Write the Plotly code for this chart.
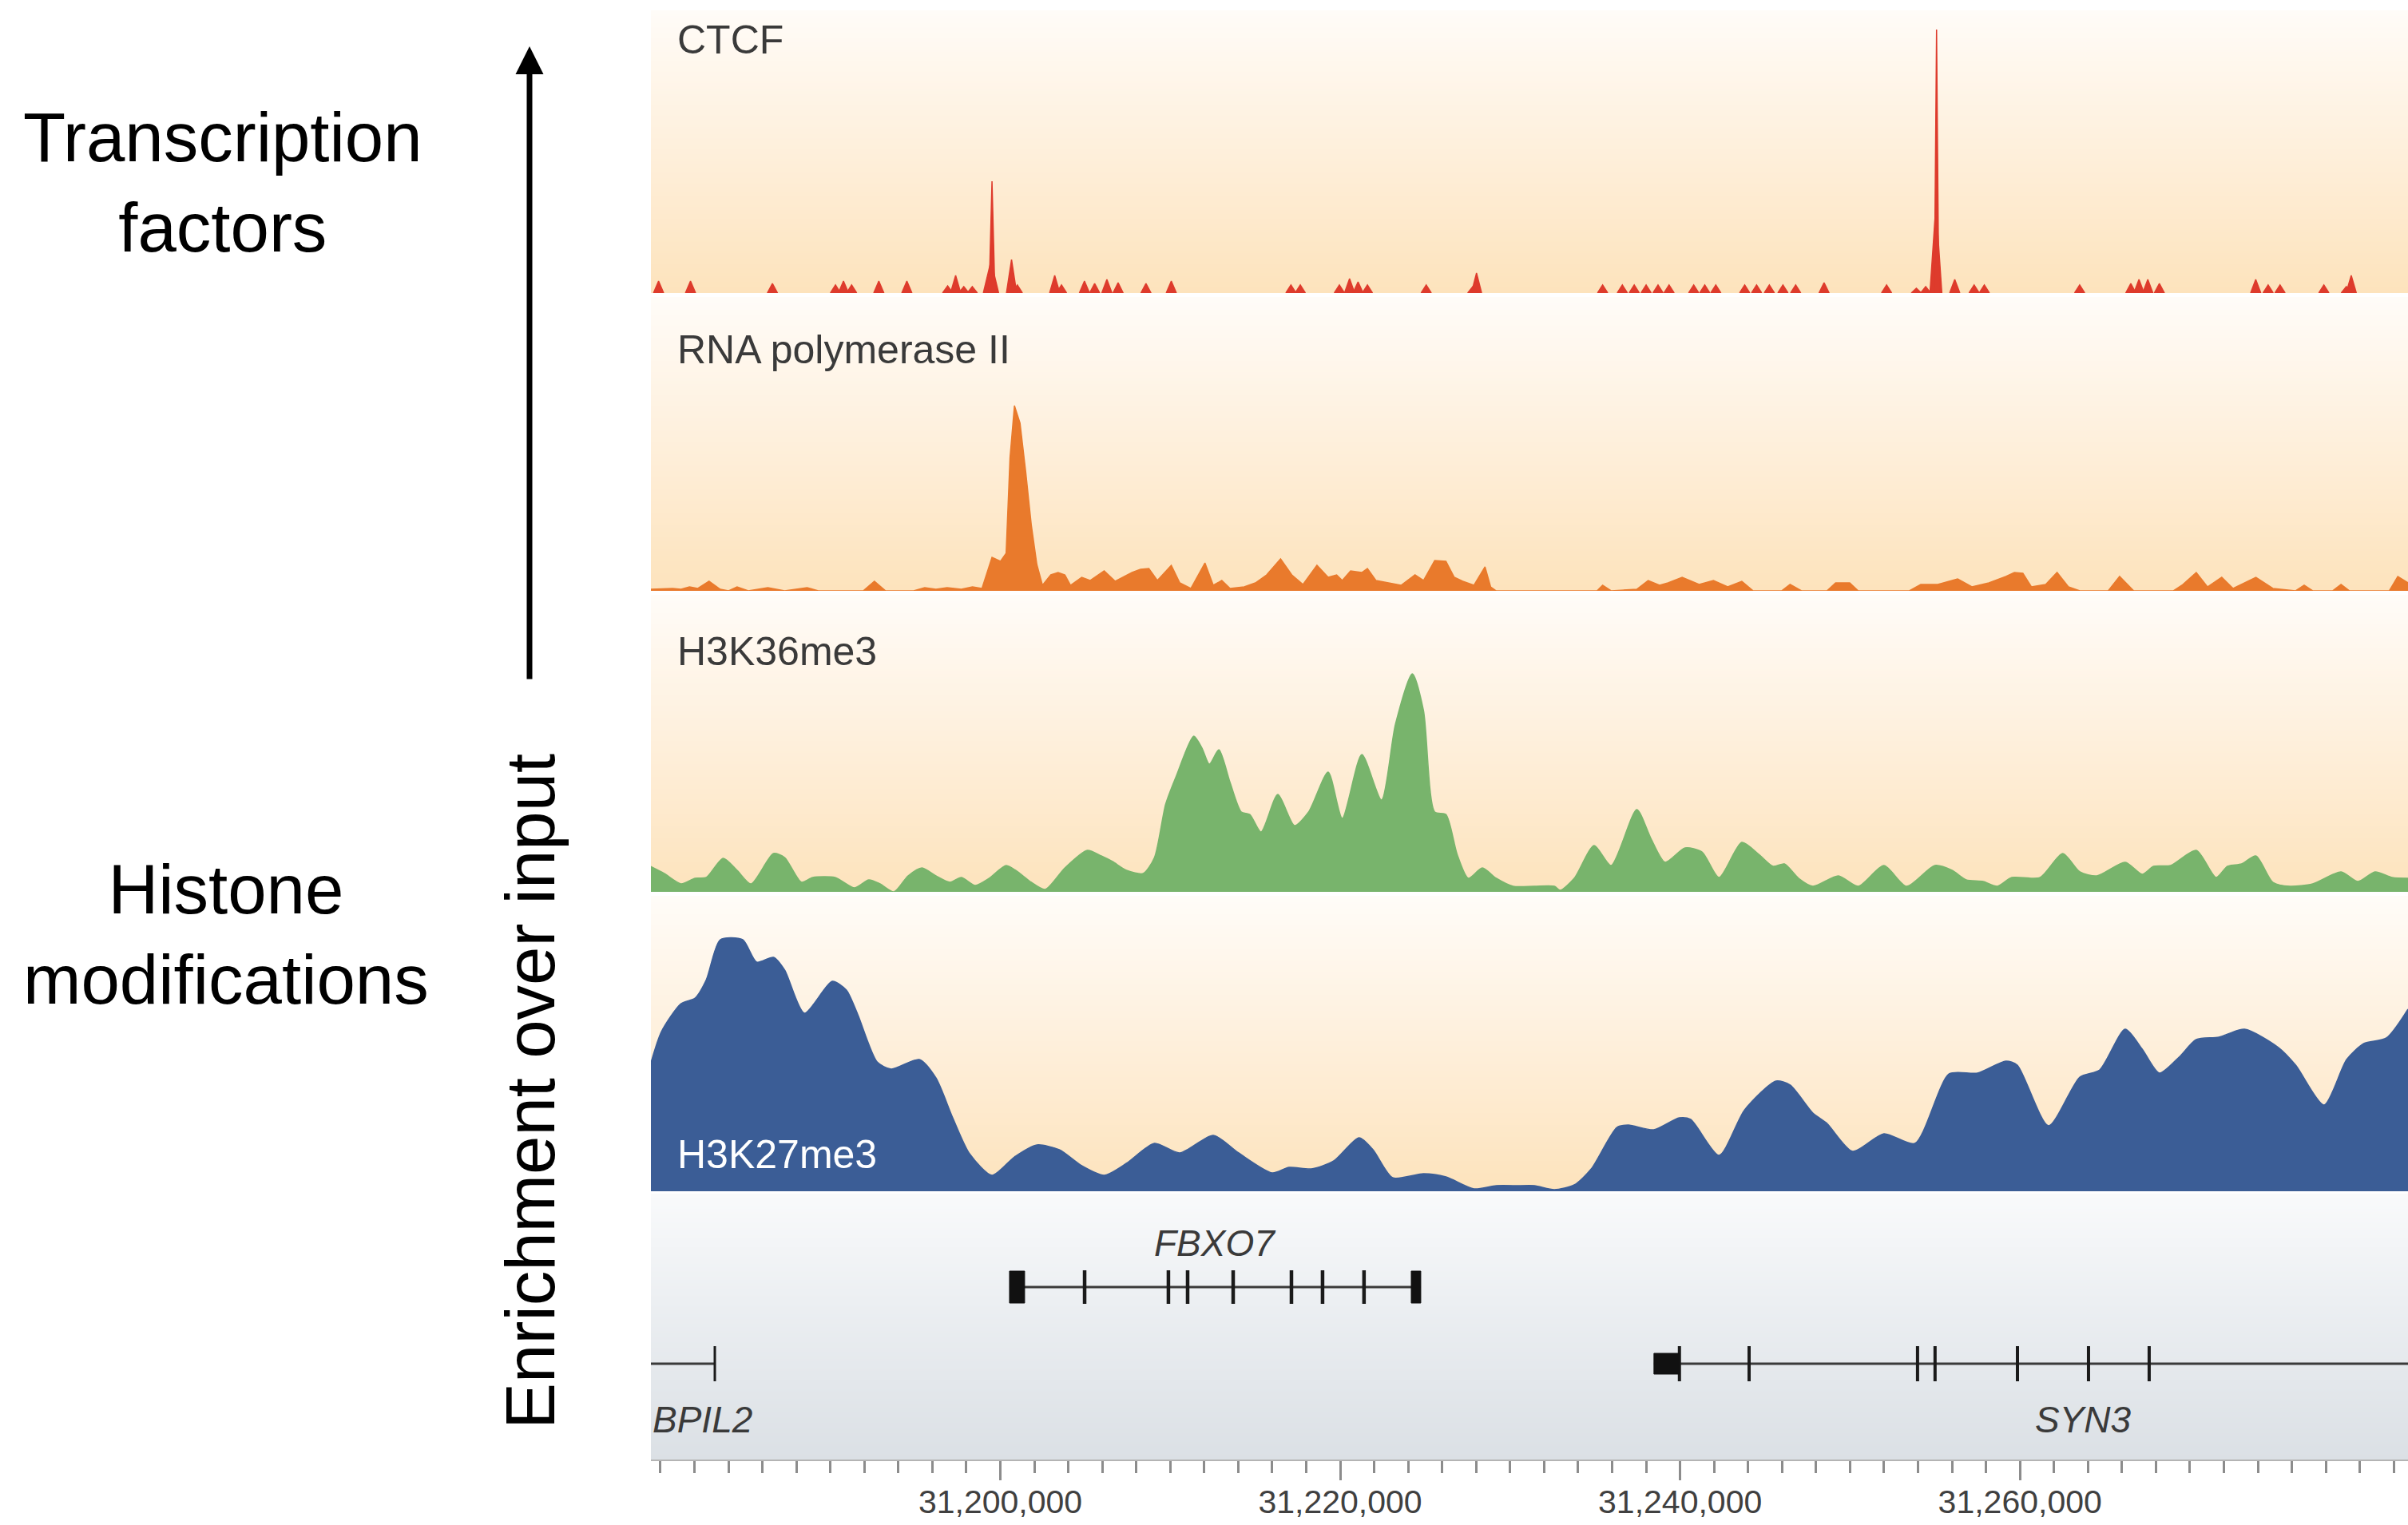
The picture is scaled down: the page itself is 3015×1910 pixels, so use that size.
import plotly.graph_objects as go

# ---------------------------------------------------------------- data
# genomic coordinate (kb on chr22) and enrichment signal (arbitrary units)
X_START_KB = 31179.44
X_END_KB = 31282.83

tick_kb = [31200, 31220, 31240, 31260]
tick_text = ["31,200,000", "31,220,000", "31,240,000", "31,260,000"]

ctcf_kb = [31179.89, 31181.77, 31186.59, 31190.30, 31190.77, 31191.25, 31192.85, 31194.50,
           31196.90, 31197.37, 31197.85, 31198.35, 31199.45, 31199.51, 31200.66, 31201.00,
           31203.20, 31203.60, 31204.95, 31205.55, 31206.27, 31206.93, 31208.57, 31210.06,
           31217.10, 31217.65, 31219.95, 31220.55, 31221.05, 31221.60, 31225.06, 31227.80, 31228.02,
           31235.44, 31236.60, 31237.30, 31238.00, 31238.70, 31239.35, 31240.80, 31241.45, 31242.10,
           31243.80, 31244.50, 31245.25, 31246.05, 31246.80, 31248.47, 31252.15, 31253.90, 31254.45,
           31255.05, 31255.09, 31256.16, 31257.30, 31257.90, 31263.51, 31266.52, 31267.00, 31267.52,
           31268.20, 31273.87, 31274.60, 31275.30, 31277.88, 31279.20, 31279.49]
ctcf_val = [15, 15, 12, 10, 15, 10, 15, 15,
            9, 22, 8, 8, 40, 140, 42, 10,
            22, 10, 15, 12, 17, 13, 12, 15,
            10, 10, 10, 18, 14, 10, 10, 8, 25,
            10, 10, 10, 10, 10, 10, 10, 10, 10,
            10, 10, 10, 10, 10, 13, 10, 6, 8,
            110, 330, 17, 10, 10, 10, 12, 17, 17,
            12, 17, 10, 10, 10, 8, 22]
ctcf_halfwidth_kb = [0.3] * 12 + [0.45, 0.17, 0.3] + [0.3] * 36 + [0.35, 0.13] + [0.3] * 14

polr2_kb = [31179.44, 31180.72, 31181.21, 31181.71, 31182.20, 31182.86, 31183.52, 31184.01, 31184.51, 31185.17,
            31186.32, 31187.31, 31188.63, 31189.29, 31191.93, 31192.59, 31193.25, 31194.90, 31195.55, 31196.21,
            31196.87, 31197.70, 31198.36, 31198.92, 31199.51, 31200.01, 31200.34, 31200.57, 31200.83, 31201.16,
            31201.49, 31201.82, 31202.15, 31202.48, 31202.97, 31203.40, 31203.80, 31204.13, 31204.79, 31205.28,
            31206.11, 31206.76, 31207.75, 31208.25, 31208.74, 31209.24, 31210.06, 31210.56, 31211.21, 31212.04,
            31212.53, 31213.03, 31213.52, 31214.35, 31215.01, 31215.67, 31216.49, 31217.15, 31217.81, 31218.63,
            31219.29, 31219.79, 31220.12, 31220.61, 31221.27, 31221.60, 31222.10, 31222.92, 31223.58, 31224.40,
            31224.90, 31225.56, 31226.22, 31226.71, 31227.21, 31227.87, 31228.52, 31228.85, 31229.18,
            31235.11, 31235.44, 31235.94, 31237.45, 31238.12, 31238.79, 31239.29, 31240.12, 31241.12, 31241.96,
            31242.80, 31243.63, 31244.30, 31245.97, 31246.47, 31247.14, 31248.64, 31249.15, 31249.98, 31250.48,
            31253.49, 31254.16, 31255.16, 31256.33, 31257.17, 31258.17, 31259.17, 31259.67, 31260.17, 31260.67,
            31261.51, 31262.18, 31262.85, 31263.52, 31265.19, 31265.86, 31266.69, 31269.03, 31269.53, 31270.37,
            31271.03, 31271.87, 31272.54, 31273.88, 31274.88, 31276.22, 31276.72, 31277.22, 31278.39, 31278.89,
            31279.39, 31281.73, 31282.23, 31282.83]
polr2_val = [2, 3, 2, 5, 3, 12, 2, 0, 5, 0,
             4, 0, 4, 0, 0, 12, 0, 0, 4, 2,
             4, 2, 5, 3, 42, 37, 47, 167, 232, 210,
             150, 83, 33, 7, 20, 23, 20, 7, 17, 13,
             25, 12, 23, 27, 28, 13, 32, 10, 3, 35,
             7, 13, 3, 5, 10, 20, 40, 20, 8, 32,
             17, 20, 13, 25, 23, 28, 13, 10, 7, 20,
             13, 38, 37, 17, 12, 7, 30, 5, 0,
             0, 7, 0, 2, 13, 7, 10, 17, 8, 13,
             5, 12, 0, 0, 8, 0, 0, 10, 10, 0,
             0, 8, 8, 15, 5, 10, 18, 23, 22, 5,
             8, 23, 5, 0, 0, 18, 0, 0, 7, 23,
             5, 17, 3, 17, 3, 0, 7, 0, 0, 8,
             0, 0, 18, 10]

k36_kb = [31179.40, 31180.22, 31181.21, 31182.04, 31182.70, 31183.69, 31184.51, 31185.33, 31186.65, 31187.31,
          31188.30, 31188.96, 31190.28, 31191.43, 31192.26, 31192.92, 31193.74, 31194.57, 31195.39, 31196.21,
          31197.04, 31197.70, 31198.52, 31199.35, 31200.34, 31201.16, 31201.82, 31202.64, 31203.80, 31205.12,
          31205.94, 31206.60, 31207.42, 31208.41, 31209.07, 31209.73, 31210.39, 31211.38, 31211.87, 31212.30,
          31212.86, 31213.52, 31214.18, 31214.68, 31215.34, 31216.33, 31217.31, 31218.14, 31219.29, 31220.12,
          31221.27, 31222.43, 31223.25, 31224.24, 31224.90, 31225.56, 31226.22, 31226.88, 31227.54, 31228.36,
          31229.18, 31230.17, 31231.43, 31232.60, 31232.94, 31233.77, 31234.94, 31235.94, 31237.45, 31238.28,
          31239.12, 31240.29, 31241.29, 31242.29, 31243.63, 31244.63, 31245.47, 31246.14, 31246.97, 31247.81,
          31249.31, 31250.48, 31251.99, 31253.32, 31254.99, 31256.00, 31256.83, 31257.83, 31258.67, 31259.51,
          31261.18, 31262.51, 31263.52, 31264.52, 31266.19, 31267.19, 31267.86, 31268.86, 31270.37, 31271.54,
          31272.21, 31273.04, 31273.88, 31274.88, 31275.88, 31277.22, 31278.89, 31279.89, 31280.89, 31281.90,
          31282.83]
k36_val = [32, 23, 10, 17, 18, 42, 27, 10, 48, 43,
           12, 18, 18, 5, 15, 10, 0, 20, 30, 20,
           12, 18, 8, 17, 33, 23, 12, 3, 30, 52,
           45, 38, 27, 23, 43, 110, 147, 195, 180, 160,
           178, 137, 100, 97, 75, 122, 83, 100, 150, 92,
           172, 115, 210, 273, 227, 100, 97, 47, 17, 30,
           17, 7, 7, 7, 2, 17, 58, 33, 103, 67,
           37, 55, 50, 18, 62, 47, 32, 35, 17, 7,
           20, 7, 33, 7, 33, 27, 15, 13, 7, 18,
           18, 48, 25, 20, 37, 22, 32, 33, 52, 18,
           32, 35, 45, 12, 7, 10, 25, 13, 25, 18,
           17]

k27_kb = [31179.40, 31180.06, 31181.21, 31182.04, 31182.70, 31183.52, 31184.84, 31185.66, 31186.65, 31187.31,
          31188.47, 31190.11, 31190.94, 31191.60, 31192.75, 31193.58, 31195.23, 31196.21, 31197.20, 31198.19,
          31199.51, 31200.83, 31202.15, 31203.47, 31204.79, 31206.11, 31207.42, 31209.07, 31210.56, 31212.53,
          31214.02, 31216.00, 31216.99, 31218.30, 31219.62, 31221.11, 31221.93, 31223.08, 31224.90, 31226.22,
          31227.87, 31229.18, 31230.43, 31231.43, 31232.60, 31233.77, 31234.77, 31236.28, 31236.95, 31238.45,
          31239.95, 31240.62, 31242.29, 31243.80, 31245.64, 31246.47, 31247.81, 31248.64, 31250.15, 31251.99,
          31253.82, 31255.83, 31257.50, 31259.17, 31259.84, 31261.68, 31263.52, 31264.69, 31266.19, 31267.19,
          31268.20, 31269.36, 31270.37, 31271.70, 31273.21, 31275.21, 31276.22, 31277.89, 31279.22, 31280.23,
          31281.56, 31282.83]
k27_val = [158, 200, 235, 242, 265, 315, 315, 287, 293, 277,
           223, 263, 252, 222, 162, 153, 165, 142, 92, 47,
           20, 43, 58, 52, 32, 20, 35, 60, 48, 70,
           48, 23, 30, 28, 38, 67, 52, 17, 22, 18,
           3, 7, 7, 7, 2, 8, 28, 80, 83, 77,
           92, 90, 45, 102, 138, 133, 98, 85, 50, 72,
           60, 147, 148, 163, 158, 82, 143, 152, 203, 178,
           148, 168, 190, 193, 203, 180, 158, 108, 165, 185,
           192, 228]

# gene models (kb)
fbxo7_span_kb = [31200.54, 31224.74]
fbxo7_exon_kb = [31204.96, 31209.89, 31211.02, 31213.70, 31217.13, 31218.96, 31221.40]
fbxo7_block_kb = [[31200.54, 31201.43], [31224.18, 31224.74]]
bpil2_span_kb = [X_START_KB, 31183.20]
bpil2_exon_kb = [31183.20]
syn3_span_kb = [31238.46, X_END_KB]
syn3_exon_kb = [31239.96, 31244.06, 31253.97, 31255.00, 31259.85, 31264.03, 31267.60]
syn3_block_kb = [[31238.46, 31239.96]]

# ---------------------------------------------------------------- layout helpers
W, H = 3015, 1910
X_LEFT_PX = 815
panels = [("y", 13, 367), ("y2", 372, 740), ("y3", 745, 1117), ("y4", 1122, 1492), ("y5", 1495, 1828)]

PEACH = [[0, "#fde3bc"], [0.45, "#feeed8"], [1, "#fffcf8"]]
GREY = [[0, "#dbe0e5"], [0.6, "#eceff2"], [1, "#f9fafb"]]

fig = go.Figure()

# gradient backgrounds
for i, (ya, top, bot) in enumerate(panels):
    rng = bot - top
    n = 12
    ys = [-5 + (rng + 10) * k / (n - 1) for k in range(n)]
    zs = [[(yv / rng), (yv / rng)] for yv in ys]
    fig.add_trace(go.Heatmap(x=[X_START_KB - 2, X_END_KB + 2], y=ys, z=zs,
                             colorscale=GREY if ya == "y5" else PEACH, zmin=0, zmax=1,
                             zsmooth="best", showscale=False, hoverinfo="skip",
                             xaxis="x", yaxis=ya))

# CTCF peaks (each peak as a filled spike)
cx, cy = [], []
for c, v, w in zip(ctcf_kb, ctcf_val, ctcf_halfwidth_kb):
    cx += [c - w, c, c + w, None]
    cy += [0, v, 0, None]
fig.add_trace(go.Scatter(x=cx, y=cy, mode="lines", fill="toself", fillcolor="#de3b2c",
                         line=dict(color="#de3b2c", width=1.5), xaxis="x", yaxis="y", hoverinfo="skip"))

fig.add_trace(go.Scatter(x=polr2_kb, y=polr2_val, mode="lines", fill="tozeroy", fillcolor="#e97a2c",
                         line=dict(color="#e97a2c", width=1.5), xaxis="x", yaxis="y2", hoverinfo="skip"))
fig.add_trace(go.Scatter(x=k36_kb, y=k36_val, mode="lines", fill="tozeroy", fillcolor="#78b46c",
                         line=dict(color="#78b46c", width=1.5, shape="spline", smoothing=0.7),
                         xaxis="x", yaxis="y3", hoverinfo="skip"))
fig.add_trace(go.Scatter(x=k27_kb, y=k27_val, mode="lines", fill="tozeroy", fillcolor="#3b5d96",
                         line=dict(color="#3b5d96", width=1.5, shape="spline", smoothing=0.7),
                         xaxis="x", yaxis="y4", hoverinfo="skip"))

# gene models
UPPER_Y, LOWER_Y = 216, 120
def gene(span, exons, blocks, yc, exon_half, block_half, exon_w):
    fig.add_trace(go.Scatter(x=[span[0], span[1]], y=[yc, yc], mode="lines",
                             line=dict(color="#3a3a3a", width=3), xaxis="x", yaxis="y5", hoverinfo="skip"))
    ex, ey = [], []
    for e in exons:
        ex += [e, e, None]
        ey += [yc - exon_half, yc + exon_half, None]
    fig.add_trace(go.Scatter(x=ex, y=ey, mode="lines", line=dict(color="#1a1a1a", width=exon_w),
                             xaxis="x", yaxis="y5", hoverinfo="skip"))
    bx, by = [], []
    for a, b in blocks:
        bx += [a, b, b, a, a, None]
        by += [yc - block_half, yc - block_half, yc + block_half, yc + block_half, yc - block_half, None]
    if bx:
        fig.add_trace(go.Scatter(x=bx, y=by, mode="lines", fill="toself", fillcolor="#111111",
                                 line=dict(color="#111111", width=1), xaxis="x", yaxis="y5", hoverinfo="skip"))

gene(fbxo7_span_kb, fbxo7_exon_kb, fbxo7_block_kb, UPPER_Y, 21, 20, 4.5)
gene(bpil2_span_kb, bpil2_exon_kb, [], LOWER_Y, 22, 0, 3)
gene(syn3_span_kb, syn3_exon_kb, syn3_block_kb, LOWER_Y, 22, 13, 4)

# ---------------------------------------------------------------- axes
layout = dict(
    width=W, height=H, margin=dict(l=0, r=0, t=0, b=0),
    paper_bgcolor="white", plot_bgcolor="white", showlegend=False, hovermode=False,
    font=dict(family="Arial, Liberation Sans, sans-serif", color="#333333"),
    xaxis=dict(domain=[X_LEFT_PX / W, 1], range=[X_START_KB, X_END_KB], anchor="y5",
               showgrid=False, zeroline=False, showline=True, linecolor="#b4b4b4", linewidth=2,
               tickmode="array", tickvals=tick_kb, ticktext=tick_text, ticks="outside",
               ticklen=24, tickwidth=3, tickcolor="#8c8c8c", ticklabelstandoff=-8,
               tickfont=dict(size=41, color="#404040"),
               minor=dict(tick0=31180, dtick=2, ticks="outside", ticklen=15, tickwidth=3,
                          tickcolor="#8c8c8c", showgrid=False),
               fixedrange=True, automargin=False),
)
for ya, top, bot in panels:
    key = "yaxis" if ya == "y" else "yaxis" + ya[1:]
    layout[key] = dict(domain=[1 - bot / H, 1 - top / H], range=[0, bot - top], anchor="x",
                       visible=False, fixedrange=True, automargin=False)
fig.update_layout(**layout)

# ---------------------------------------------------------------- text
def px_y(py):
    return 1 - py / H

track_labels = [("CTCF", 50, "#3a3a3a"), ("RNA polymerase II", 438, "#3a3a3a"),
                ("H3K36me3", 816, "#3a3a3a"), ("H3K27me3", 1446, "#ffffff")]
for txt, py, col in track_labels:
    fig.add_annotation(text=txt, x=846 / W, y=px_y(py), xref="paper", yref="paper",
                       xanchor="left", yanchor="middle", showarrow=False,
                       font=dict(family="Arial, Liberation Sans, sans-serif", size=50, color=col))

GFONT = dict(family="Arial, Liberation Sans, sans-serif", size=46, color="#3a3a3a")
fig.add_annotation(text="<i>FBXO7</i>", x=sum(fbxo7_span_kb) / 2, y=271, xref="x", yref="y5",
                   showarrow=False, xanchor="center", yanchor="middle", font=GFONT)
fig.add_annotation(text="<i>BPIL2</i>", x=X_START_KB, y=50, xref="x", yref="y5",
                   showarrow=False, xanchor="left", yanchor="middle", font=GFONT)
fig.add_annotation(text="<i>SYN3</i>", x=31263.74, y=50, xref="x", yref="y5",
                   showarrow=False, xanchor="center", yanchor="middle", font=GFONT)

BIG = dict(family="Helvetica Neue, Helvetica, Arial, Liberation Sans, sans-serif", size=87, color="black")
fig.add_annotation(text="Transcription<br>factors", x=279 / W, y=px_y(228), xref="paper", yref="paper",
                   showarrow=False, xanchor="center", yanchor="middle", align="center", font=BIG)
fig.add_annotation(text="Histone<br>modifications", x=283 / W, y=px_y(1170), xref="paper", yref="paper",
                   showarrow=False, xanchor="center", yanchor="middle", align="center", font=BIG)
fig.add_annotation(text="Enrichment over input", x=663 / W, y=px_y(1367), xref="paper", yref="paper",
                   showarrow=False, xanchor="center", yanchor="middle", textangle=-90, font=BIG)
fig.add_annotation(text="", x=663 / W, y=px_y(58), xref="paper", yref="paper",
                   showarrow=True, ax=0, ay=794, arrowhead=2, arrowsize=1, arrowwidth=7,
                   arrowcolor="black", standoff=0)

fig.write_html("out.html", config={"displayModeBar": False},
               post_script="document.body.style.margin='0px';document.body.style.overflow='hidden';")
